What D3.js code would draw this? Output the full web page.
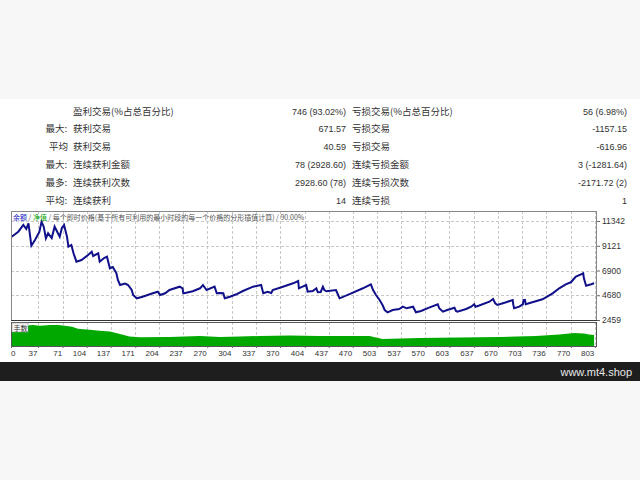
<!DOCTYPE html>
<html><head><meta charset="utf-8">
<script src="https://cdn.jsdelivr.net/npm/d3@7"></script>
<style>
html,body{margin:0;padding:0;background:#f7f7f7;}
svg{display:block;}
</style></head>
<body>
<script>
// ---- data ----
const statsPrefix = ["", "最大:", "平均", "最大:", "最多:", "平均:"];
const statsLeftLabel = ["盈利交易(%占总百分比)", "获利交易", "获利交易", "连续获利金额", "连续获利次数", "连续获利"];
const statsLeftValue = ["746 (93.02%)", "671.57", "40.59", "78 (2928.60)", "2928.60 (78)", "14"];
const statsRightLabel = ["亏损交易(%占总百分比)", "亏损交易", "亏损交易", "连续亏损金额", "连续亏损次数", "连续亏损"];
const statsRightValue = ["56 (6.98%)", "-1157.15", "-616.96", "3 (-1281.64)", "-2171.72 (2)", "1"];

const yTicks = [2459, 4680, 6900, 9121, 11342];
const xTicks = [0,37,71,104,137,171,204,237,270,304,337,370,404,437,470,503,537,570,603,637,670,703,736,770,803];

const balanceTrade = [1,10,17,21,24,28,33,39,42,45,48,51,56,60,67,70,73,77,79,83,86,90,97,106,111,113,120,122,128,132,136,140,145,147,150,157,161,166,168,173,181,195,202,205,212,218,232,236,237,241,250,260,264,269,280,283,287,292,294,301,310,319,333,344,347,353,358,360,374,388,395,396,401,406,408,415,420,422,426,429,431,434,447,450,452,468,484,495,498,502,507,511,514,518,525,534,539,544,553,557,564,575,587,589,594,600,610,612,614,626,633,637,639,644,658,663,666,669,681,690,691,692,699,704,705,707,708,717,731,745,754,763,770,777,784,787,788,791,798,802];
const balanceValue = [9930,10383,10984,10625,11137,9127,9638,10356,11280,10832,9791,10239,9817,10832,9934,10715,10984,9934,9037,9190,8445,7691,7843,8292,8588,8202,8445,7691,8023,8140,7099,7215,6650,6049,5600,5735,5600,5151,4703,4406,4550,4855,4999,4703,4855,5151,5447,5304,4855,4900,5035,5304,5600,5151,5447,4855,4882,4855,4406,4550,4765,5061,5447,5600,4855,4999,4882,5151,5447,5752,5959,5304,5447,5600,4999,5061,5304,4945,4971,5447,5151,5035,5151,4703,4406,4855,5304,5663,5151,4703,4254,3805,3356,3150,3356,3446,3653,3509,3653,3150,3267,3563,3868,3509,3204,3356,3563,3267,3204,3446,3653,3868,3653,3760,4101,4344,3958,3805,4047,4254,3805,3509,3653,3868,4254,4254,3868,4047,4317,4855,5304,5663,5842,6345,6560,6650,6201,5537,5663,5752];

const lotsTrade = [0,4,12,19,30,40,54,65,74,84,92,108,122,136,150,163,177,218,260,287,315,342,383,424,466,493,511,562,617,672,722,754,775,788,795,802];
const lotsValue = [0.19,0.21,0.20,0.21,0.22,0.21,0.22,0.22,0.21,0.20,0.18,0.17,0.16,0.15,0.125,0.10,0.09,0.094,0.104,0.094,0.10,0.104,0.11,0.104,0.104,0.104,0.073,0.083,0.089,0.094,0.104,0.12,0.135,0.13,0.12,0.115];

// ---- layout ----
const W = 640, H = 480;
const svg = d3.select("body").append("svg").attr("width", W).attr("height", H);
const cjk = "'Noto Sans CJK SC', sans-serif";
const num = "'Liberation Sans', Arial, sans-serif";

svg.append("rect").attr("x",0).attr("y",0).attr("width",W).attr("height",H).attr("fill","#f7f7f7");
svg.append("rect").attr("x",0).attr("y",99).attr("width",W).attr("height",263).attr("fill","#ffffff");
svg.append("rect").attr("x",0).attr("y",362).attr("width",W).attr("height",19).attr("fill","#1e1e1e");
svg.append("text").attr("x",632).attr("y",376).attr("text-anchor","end")
  .attr("font-family",num).attr("font-size",11).attr("fill","#e8e8e8").text("www.mt4.shop");

// stats table
const rowY = i => 114.5 + i*17.8;
const tg = svg.append("g").attr("fill","#333");
statsPrefix.forEach((p,i)=>{
  if(p) tg.append("text").attr("x", p==="平均" ? 49 : 45.5).attr("y",rowY(i)).attr("font-family",cjk).attr("font-size",9.5).text(p);
});
statsLeftLabel.forEach((t,i)=>tg.append("text").attr("x",73).attr("y",rowY(i)).attr("font-family",cjk).attr("font-size",9.5).text(t));
statsLeftValue.forEach((t,i)=>tg.append("text").attr("x",346).attr("y",rowY(i)).attr("text-anchor","end").attr("font-family",num).attr("font-size",9).text(t));
statsRightLabel.forEach((t,i)=>tg.append("text").attr("x",352).attr("y",rowY(i)).attr("font-family",cjk).attr("font-size",9.5).text(t));
statsRightValue.forEach((t,i)=>tg.append("text").attr("x",627).attr("y",rowY(i)).attr("text-anchor","end").attr("font-family",num).attr("font-size",9).text(t));

// chart scales
const L = 11, R = 597, T = 211, B = 320, VT = 322, VB = 346;
const x = d3.scaleLinear().domain([0, 806]).range([L, R]);
const y = d3.scaleLinear().domain([2459, 11342]).range([B, 221]);
const yv = d3.scaleLinear().domain([0, 0.25]).range([VB, VT]);

// grid
const grid = svg.append("g").attr("stroke","#c8c8c8").attr("stroke-dasharray","3,2").attr("stroke-width",1);
xTicks.slice(1).forEach(t=>{
  grid.append("line").attr("x1",Math.round(x(t))+0.5).attr("x2",Math.round(x(t))+0.5).attr("y1",T).attr("y2",B);
  grid.append("line").attr("x1",Math.round(x(t))+0.5).attr("x2",Math.round(x(t))+0.5).attr("y1",VT).attr("y2",VB);
});
yTicks.slice(1).forEach(t=>{
  grid.append("line").attr("x1",L).attr("x2",R).attr("y1",Math.round(y(t))+0.5).attr("y2",Math.round(y(t))+0.5);
});

// volume area
const vdata = lotsTrade.map((t,i)=>({t, v: lotsValue[i]}));
svg.append("path").datum(vdata)
  .attr("d", d3.area().x(d=>x(d.t)).y0(VB).y1(d=>yv(d.v)))
  .attr("fill","#00a800");

// balance line
const bdata = balanceTrade.map((t,i)=>({t, v: balanceValue[i]}));
svg.append("path").datum(bdata)
  .attr("d", d3.line().x(d=>x(d.t)).y(d=>y(d.v)))
  .attr("fill","none").attr("stroke","#10108a").attr("stroke-width",2).attr("stroke-linejoin","miter");

// frames
svg.append("rect").attr("x",L+0.5).attr("y",T+0.5).attr("width",R-L-1).attr("height",B-T).attr("fill","none").attr("stroke","#888").attr("stroke-width",1);
svg.append("line").attr("x1",L).attr("x2",R).attr("y1",B+0.5).attr("y2",B+0.5).attr("stroke","#333");
svg.append("rect").attr("x",L+0.5).attr("y",VT+0.5).attr("width",R-L-1).attr("height",VB-VT).attr("fill","none").attr("stroke","#555").attr("stroke-width",1);

// y axis labels
const ya = svg.append("g").attr("transform",`translate(${R},0)`)
  .call(d3.axisRight(y).tickValues(yTicks).tickFormat(d3.format("d")).tickSize(3).tickPadding(2));
ya.select(".domain").remove();
ya.selectAll("text").attr("font-family",num).attr("font-size",8.5).attr("fill","#333");
ya.selectAll("line").attr("stroke","#666");

// x axis labels
const xa = svg.append("g").attr("transform",`translate(0,${VB})`)
  .call(d3.axisBottom(x).tickValues(xTicks).tickFormat(d3.format("d")).tickSize(2).tickPadding(2));
xa.select(".domain").remove();
xa.selectAll("text").attr("font-family",num).attr("font-size",8).attr("fill","#333")
  .attr("text-anchor", d => d===0 ? "start" : "end")
  .attr("dx", d => d===0 ? "-0.5" : "-1");
xa.selectAll("line").attr("stroke","#666");

// legend in chart
const lg = svg.append("text").attr("x",13).attr("y",219.5).attr("font-family",cjk).attr("font-size",7);
lg.append("tspan").attr("fill","#1010c0").text("余额");
lg.append("tspan").attr("fill","#555").text(" / ");
lg.append("tspan").attr("fill","#00a000").text("净值");
lg.append("tspan").attr("fill","#555").text(" / 每个即时价格(基于所有可利用的最小时段的每一个价格的分形插值计算) / 90.00%");

// volume label
svg.append("rect").attr("x",12).attr("y",323).attr("width",16).attr("height",9).attr("fill","#f4f4f4").attr("stroke","#999").attr("stroke-width",0.5);
svg.append("text").attr("x",13.5).attr("y",330.5).attr("font-family",cjk).attr("font-size",7).attr("fill","#333").text("手数");
</script>
</body></html>
